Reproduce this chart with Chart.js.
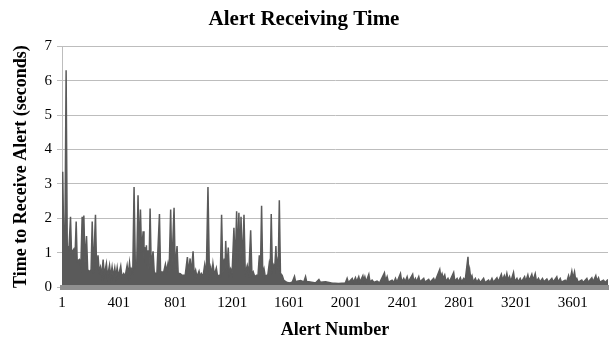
<!DOCTYPE html>
<html><head><meta charset="utf-8">
<script src="https://cdn.jsdelivr.net/npm/chart.js@4.4.0/dist/chart.umd.min.js"></script>
<style>html,body{margin:0;padding:0;background:#fff;} #wrap{width:614px;height:350px;}</style>
</head><body><div id="wrap"><canvas id="c" width="614" height="350"></canvas></div>
<script>
const chartTitle = 'Alert Receiving Time';
const xAxisTitle = 'Alert Number';
const yAxisTitle = 'Time to Receive Alert (seconds)';
const xTickLabels = [1, 401, 801, 1201, 1601, 2001, 2401, 2801, 3201, 3601];
const yTickLabels = [0, 1, 2, 3, 4, 5, 6, 7];

// alert numbers and receiving times (peaks and band top)
const alertNumbers = [
  1, 6, 12, 22, 30, 38, 50, 61, 68, 84,
  92, 101, 108, 124, 134, 143, 149, 155, 163, 174,
  182, 195, 206, 214, 222, 237, 245, 255, 263, 272,
  281, 291, 299, 314, 322, 336, 344, 354, 362, 373,
  381, 390, 398, 415, 423, 436, 446, 460, 468, 477,
  484, 490, 500, 509, 518, 528, 537, 545, 554, 562,
  573, 579, 584, 590, 596, 602, 608, 614, 622, 630,
  643, 651, 659, 670, 688, 696, 706, 716, 730, 738,
  748, 756, 767, 775, 791, 799, 812, 820, 835, 845,
  852, 870, 885, 893, 904, 912, 925, 933, 943, 952,
  967, 975, 983, 995, 1007, 1018, 1030, 1040, 1049, 1057,
  1065, 1075, 1089, 1098, 1108, 1117, 1126, 1135, 1145, 1150,
  1155, 1163, 1173, 1181, 1190, 1200, 1213, 1222, 1232, 1240,
  1248, 1255, 1263, 1272, 1284, 1293, 1307, 1318, 1331, 1340,
  1349, 1360, 1373, 1383, 1392, 1400, 1408, 1416, 1425, 1434,
  1443, 1452, 1462, 1469, 1476, 1484, 1493, 1500, 1509, 1514,
  1518, 1525, 1533, 1541, 1553, 1565, 1589, 1610, 1625, 1640,
  1648, 1659, 1683, 1706, 1718, 1726, 1741, 1790, 1812, 1822,
  1859, 1900, 1950, 1999, 2011, 2020, 2047, 2055, 2070, 2078,
  2093, 2102, 2122, 2128, 2136, 2145, 2164, 2172, 2187, 2200,
  2222, 2240, 2274, 2282, 2293, 2302, 2328, 2340, 2352, 2362,
  2387, 2396, 2410, 2420, 2434, 2443, 2473, 2481, 2492, 2500,
  2516, 2525, 2551, 2560, 2586, 2595, 2621, 2630, 2664, 2671,
  2680, 2688, 2699, 2708, 2722, 2732, 2762, 2770, 2786, 2795,
  2809, 2818, 2833, 2843, 2863, 2869, 2875, 2882, 2891, 2900,
  2915, 2925, 2938, 2950, 2973, 2983, 3008, 3018, 3032, 3042,
  3067, 3077, 3098, 3107, 3119, 3127, 3137, 3146, 3156, 3165,
  3184, 3193, 3208, 3217, 3231, 3240, 3262, 3270, 3285, 3294,
  3313, 3322, 3337, 3346, 3360, 3370, 3388, 3398, 3419, 3430,
  3454, 3464, 3489, 3498, 3513, 3522, 3548, 3558, 3572, 3581,
  3595, 3603, 3614, 3622, 3630, 3640, 3665, 3675, 3701, 3710,
  3736, 3745, 3764, 3772, 3783, 3792, 3818, 3830, 3850
];
const receiveTimes = [
  1.5, 3.35, 1.7, 1.6, 6.3, 1.2, 1.1, 2.04, 1.0, 1.1,
  0.8, 1.9, 0.75, 0.8, 0.6, 2.04, 1.0, 2.08, 0.7, 1.48,
  0.5, 0.45, 0.5, 1.9, 0.4, 2.1, 0.5, 0.92, 0.45, 0.58,
  0.35, 0.8, 0.35, 0.68, 0.3, 0.63, 0.3, 0.58, 0.3, 0.56,
  0.3, 0.56, 0.3, 0.61, 0.3, 0.39, 0.3, 0.63, 0.35, 0.7,
  0.4, 0.53, 0.45, 2.91, 0.6, 0.7, 2.67, 1.0, 2.25, 1.0,
  1.62, 0.8, 1.16, 0.7, 1.21, 0.6, 1.07, 0.5, 2.28, 0.6,
  1.04, 0.45, 0.39, 0.4, 2.12, 0.4, 0.44, 0.4, 0.66, 0.45,
  0.68, 0.45, 2.25, 0.5, 2.3, 0.5, 1.19, 0.4, 0.39, 0.35,
  0.34, 0.35, 0.87, 0.4, 0.83, 0.4, 1.04, 0.35, 0.49, 0.3,
  0.46, 0.3, 0.39, 0.3, 0.65, 0.35, 2.91, 0.4, 0.58, 0.35,
  0.68, 0.35, 0.55, 0.3, 0.34, 0.3, 2.1, 0.4, 0.83, 0.5,
  1.34, 0.5, 1.15, 0.4, 0.53, 0.4, 1.72, 0.6, 2.2, 0.7,
  2.16, 0.7, 2.04, 0.6, 2.1, 0.4, 0.63, 0.4, 1.65, 0.35,
  0.44, 0.3, 0.34, 0.35, 0.92, 0.5, 2.36, 0.4, 0.53, 0.3,
  0.34, 0.35, 0.68, 0.5, 2.12, 0.5, 0.63, 0.5, 1.19, 0.6,
  0.73, 0.5, 2.52, 0.4, 0.34, 0.19, 0.13, 0.12, 0.15, 0.31,
  0.15, 0.17, 0.19, 0.15, 0.3, 0.15, 0.15, 0.12, 0.22, 0.14,
  0.15, 0.12, 0.1, 0.12, 0.25, 0.13, 0.25, 0.14, 0.27, 0.15,
  0.3, 0.15, 0.33, 0.2, 0.3, 0.15, 0.37, 0.15, 0.2, 0.13,
  0.17, 0.12, 0.41, 0.18, 0.3, 0.14, 0.2, 0.13, 0.25, 0.14,
  0.39, 0.15, 0.25, 0.15, 0.3, 0.15, 0.37, 0.16, 0.25, 0.15,
  0.3, 0.15, 0.25, 0.14, 0.22, 0.14, 0.25, 0.15, 0.51, 0.3,
  0.39, 0.25, 0.35, 0.16, 0.25, 0.15, 0.42, 0.17, 0.25, 0.15,
  0.27, 0.15, 0.25, 0.18, 0.88, 0.3, 0.49, 0.25, 0.33, 0.15,
  0.25, 0.14, 0.22, 0.13, 0.25, 0.13, 0.2, 0.13, 0.25, 0.14,
  0.27, 0.15, 0.37, 0.2, 0.33, 0.2, 0.39, 0.2, 0.3, 0.16,
  0.42, 0.16, 0.25, 0.15, 0.25, 0.15, 0.3, 0.16, 0.35, 0.18,
  0.37, 0.2, 0.39, 0.16, 0.25, 0.15, 0.25, 0.15, 0.23, 0.14,
  0.25, 0.15, 0.3, 0.15, 0.25, 0.14, 0.2, 0.14, 0.33, 0.18,
  0.46, 0.25, 0.44, 0.2, 0.25, 0.14, 0.2, 0.13, 0.25, 0.14,
  0.27, 0.15, 0.33, 0.18, 0.27, 0.14, 0.2, 0.13, 0.22
];
if (alertNumbers.length !== receiveTimes.length) console.error('length mismatch', alertNumbers.length, receiveTimes.length);

const points = alertNumbers.map((a, i) => ({ x: a, y: receiveTimes[i] }));
const serif = 'Liberation Serif, "Times New Roman", serif';

new Chart(document.getElementById('c'), {
  type: 'line',
  data: {
    datasets: [{
      data: points,
      borderColor: '#5a5a5a',
      backgroundColor: '#5a5a5a',
      borderWidth: 1.5,
      fill: 'origin',
      pointRadius: 0,
      tension: 0
    }]
  },
  options: {
    responsive: false,
    animation: false,
    devicePixelRatio: 1,
    layout: { padding: { left: 0, right: 6, top: 0, bottom: 0 } },
    plugins: {
      legend: { display: false },
      tooltip: { enabled: false },
      title: {
        display: true, text: chartTitle, color: '#000',
        font: { family: serif, size: 21, weight: 'bold' },
        padding: { top: 7, bottom: 14 }
      }
    },
    scales: {
      x: {
        type: 'linear', min: 1, max: 3850,
        afterBuildTicks: s => { s.ticks = xTickLabels.map(v => ({ value: v })); },
        afterFit: s => { s.height = 63; },
        grid: { display: false, drawTicks: false },
        border: { display: true, color: '#8f8f8f', width: 5, z: 1 },
        ticks: {
          autoSkip: false, maxRotation: 0, padding: 7, color: '#000',
          font: { family: serif, size: 15 },
          callback: v => String(v)
        },
        title: {
          display: true, text: xAxisTitle, color: '#000',
          font: { family: serif, size: 18, weight: 'bold' },
          padding: { top: 0, bottom: 9 }
        }
      },
      y: {
        min: 0, max: 7,
        afterBuildTicks: s => { s.ticks = yTickLabels.map(v => ({ value: v })); },
        afterFit: s => { s.width = 62; },
        grid: { color: '#bdbdbd', lineWidth: 1, drawTicks: true, tickLength: 5 },
        border: { display: true, color: '#bdbdbd', width: 1 },
        ticks: { padding: 5, color: '#000', font: { family: serif, size: 15 } },
        title: {
          display: true, text: yAxisTitle, color: '#000',
          font: { family: serif, size: 18, weight: 'bold' },
          padding: { top: 11, bottom: 0 }
        }
      }
    }
  }
});
</script>
</body></html>
